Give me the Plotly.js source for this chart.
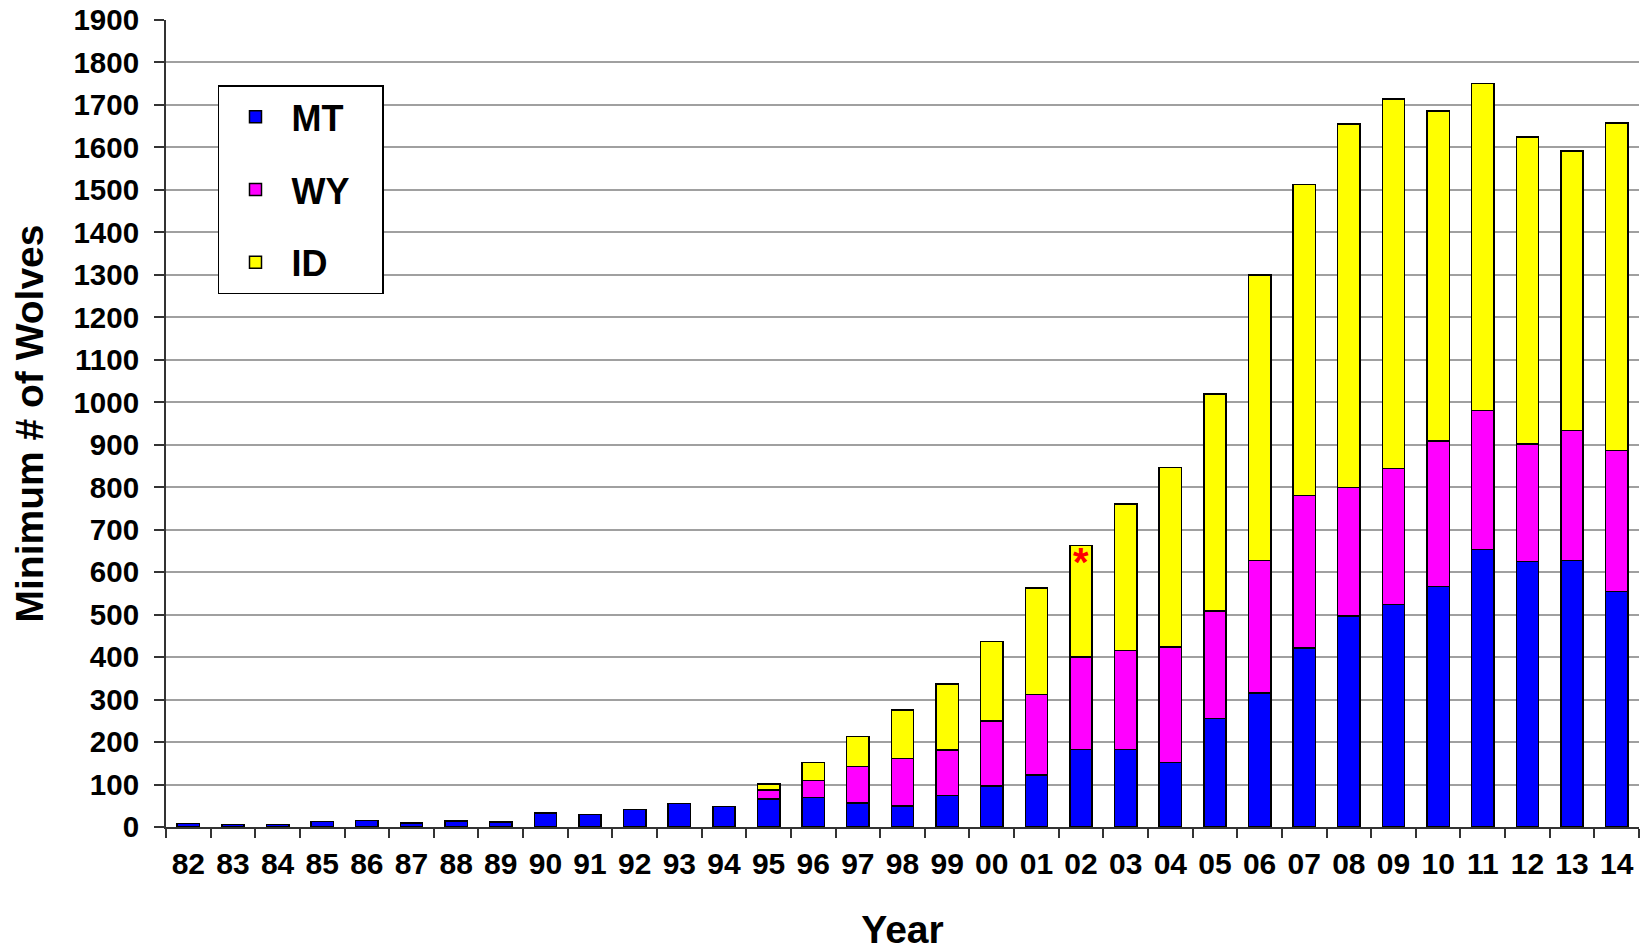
<!DOCTYPE html>
<html>
<head>
<meta charset="utf-8">
<script src="https://cdn.plot.ly/plotly-3.0.1.min.js"></script>
<style>
  html, body { margin: 0; padding: 0; background: #ffffff; }
  #chart { width: 1651px; height: 951px; }
</style>
</head>
<body>
<div id="chart"></div>
<script>
// Year labels (two-digit)
const years = ['82','83','84','85','86','87','88','89','90','91','92','93','94',
               '95','96','97','98','99','00','01','02','03','04','05','06','07',
               '08','09','10','11','12','13','14'];

// Minimum number of wolves by state
const mtValues = [8, 6, 6, 13, 15, 10, 14, 12, 33, 29, 41, 55, 48,
                  66, 70, 56, 49, 74, 97, 123, 183, 182, 152, 256, 316, 422,
                  497, 524, 566, 653, 625, 627, 554];
const wyValues = [0, 0, 0, 0, 0, 0, 0, 0, 0, 0, 0, 0, 0,
                  21, 40, 86, 112, 107, 153, 189, 217, 234, 272, 252, 311, 359,
                  302, 320, 343, 328, 277, 306, 333];
const idValues = [0, 0, 0, 0, 0, 0, 0, 0, 0, 0, 0, 0, 0,
                  14, 42, 71, 114, 156, 187, 251, 263, 345, 422, 512, 673, 732,
                  856, 870, 777, 769, 722, 659, 770];

const seriesNames = ['MT', 'WY', 'ID'];
const seriesColors = ['#0000ff', '#ff00ff', '#ffff00'];

// Marked year (red asterisk)
const markedYear = '02';
const markedLevel = 625;

const xTitle = 'Year';
const yTitle = 'Minimum # of Wolves';

const yTicks = [];
for (let v = 0; v <= 1900; v += 100) yTicks.push(v);

const FONT = 'Liberation Sans, Arial, sans-serif';
const NB = '\u00a0';

function barTrace(name, vals, color) {
  // omit zero-height segments so no outline is drawn for them
  return {
    type: 'bar',
    name: name + NB + NB + '\u2009',   // trailing space widens the legend box
    x: years,
    y: vals.map(v => (v === 0 ? null : v)),
    marker: { color: color, line: { color: '#000000', width: 1.5 } },
    legendgroup: name,
    hovertemplate: name + ': %{y}<extra></extra>'
  };
}

const traces = [
  barTrace(seriesNames[0], mtValues, seriesColors[0]),
  barTrace(seriesNames[1], wyValues, seriesColors[1]),
  barTrace(seriesNames[2], idValues, seriesColors[2])
];

const layout = {
  width: 1651,
  height: 951,
  paper_bgcolor: '#ffffff',
  plot_bgcolor: '#ffffff',
  margin: { l: 166, r: 12, t: 20, b: 124 },
  barmode: 'stack',
  bargap: 0.5,
  font: { family: FONT, color: '#000000' },
  showlegend: true,
  legend: {
    x: 0.0353, y: 0.919, xanchor: 'left', yanchor: 'top',
    bgcolor: '#ffffff',
    bordercolor: '#000000',
    borderwidth: 1.5,
    traceorder: 'grouped',
    tracegroupgap: 23,
    font: { family: FONT, size: 36, color: '#000000', weight: 'bold' },
    itemwidth: 62
  },
  xaxis: {
    type: 'category',
    categoryorder: 'array',
    categoryarray: years,
    range: [-0.5, years.length - 0.5],
    showline: true,
    linecolor: '#333333',
    linewidth: 2,
    ticks: 'outside',
    tickson: 'boundaries',
    ticklen: 9,
    tickwidth: 2,
    tickcolor: '#333333',
    ticklabelstandoff: 9,
    showgrid: false,
    tickfont: { family: FONT, size: 30, weight: 'bold', color: '#000000' },
    title: {
      // trailing spaces shift the visible word left, as in the original
      text: xTitle + NB.repeat(6),
      font: { family: FONT, size: 39, weight: 'bold', color: '#000000' },
      standoff: 43
    }
  },
  xaxis2: {
    overlaying: 'x',
    anchor: 'y',
    side: 'bottom',
    range: [-0.5, years.length - 0.5],
    tick0: -0.5,
    dtick: 1,
    ticks: 'inside',
    ticklen: 9,
    tickwidth: 2,
    tickcolor: '#333333',
    showticklabels: false,
    showgrid: false,
    zeroline: false,
    showline: false
  },
  yaxis: {
    range: [0, 1900],
    tickmode: 'array',
    tickvals: yTicks,
    ticktext: yTicks.map(String),
    showline: true,
    linecolor: '#333333',
    linewidth: 2,
    ticks: 'outside',
    ticklen: 10,
    tickwidth: 2,
    tickcolor: '#333333',
    ticklabelstandoff: 9,
    showgrid: true,
    gridcolor: '#a0a0a0',
    gridwidth: 2,
    zeroline: false,
    tickfont: { family: FONT, size: 29.5, weight: 'bold', color: '#000000' },
    title: {
      // leading spaces shift the visible text upward, as in the original
      text: NB.repeat(5) + yTitle,
      font: { family: FONT, size: 39, weight: 'bold', color: '#000000' },
      standoff: 18
    }
  },
  annotations: [
    {
      x: years.indexOf(markedYear), y: markedLevel, xref: 'x', yref: 'y',
      text: '*', showarrow: false,
      font: { family: FONT, size: 40, weight: 'bold', color: '#ff0000' },
      xanchor: 'center', yanchor: 'middle'
    }
  ]
};

Plotly.newPlot('chart', traces, layout, { displayModeBar: false, staticPlot: true });
</script>
</body>
</html>
